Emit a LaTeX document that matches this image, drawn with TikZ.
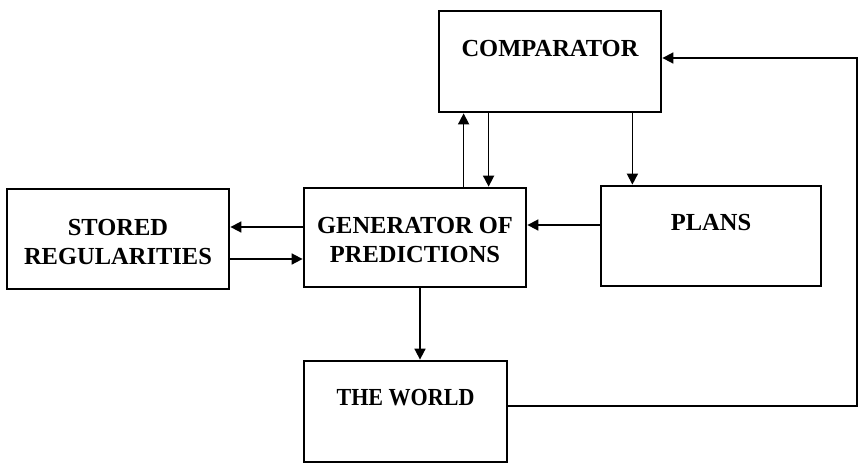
\documentclass[tikz,border=0pt]{standalone}
\usepackage{fontspec}
\setmainfont{Liberation Serif}
\usetikzlibrary{arrows.meta}
\begin{document}
\begin{tikzpicture}[x=1pt,y=-1pt,
  blk/.style={draw, line width=2.8pt, rectangle, inner sep=0pt},
  lbl/.style={font=\bfseries\fontsize{24.5}{29}\selectfont, align=center, inner sep=0pt},
  arr/.style={line width=1.7pt, -{Triangle[length=11pt,width=11pt]}}]
\useasboundingbox[fill=white] (0,0) rectangle (861,467);

% boxes
\node[blk, minimum width=222pt, minimum height=101pt] (comp)   at (550,61.5) {};
\node[blk, minimum width=222pt, minimum height=100pt] (stored) at (118,239)  {};
\node[blk, minimum width=222pt, minimum height=99pt]  (gen)    at (415,237.5) {};
\node[blk, minimum width=220pt, minimum height=100pt] (plans)  at (711,236)  {};
\node[blk, minimum width=203pt, minimum height=101pt] (world)  at (405.5,411.5) {};

% box captions
\node[lbl] (tcomp)   at ([yshift=-39pt]comp.north)   {COMPARATOR};
\node[lbl] (tstored) at ([yshift=-54pt]stored.north) {STORED\\REGULARITIES};
\node[lbl] (tgen)    at ([yshift=-53pt]gen.north)    {GENERATOR OF\\PREDICTIONS};
\node[lbl] (tplans)  at ([yshift=-38pt]plans.north)  {PLANS};
\node[lbl] (tworld)  at ([yshift=-38pt]world.north)  {\addfontfeature{FakeStretch=0.9}THE WORLD};

% connectors
\draw[arr] ([xshift=26pt]comp.south west |- gen.north) -- ([xshift=26pt]comp.south west);
\draw[arr] ([xshift=51pt]comp.south west) -- ([xshift=51pt]comp.south west |- gen.north);
\draw[arr] ([xshift=-30pt]comp.south east) -- ([xshift=-30pt]comp.south east |- plans.north);
\draw[arr] ([yshift=11pt]plans.west) -- ([yshift=11pt]plans.west -| gen.east);
\draw[arr] ([yshift=10.5pt]gen.west) -- ([yshift=10.5pt]gen.west -| stored.east);
\draw[arr] ([yshift=-21.5pt]gen.west -| stored.east) -- ([yshift=-21.5pt]gen.west);
\draw[arr] ([xshift=5pt]gen.south) -- ([xshift=5pt]gen.south |- world.north);

% feedback loop from the world back to the comparator
\coordinate (rx) at (857,0);
\coordinate (rt) at ([yshift=3.5pt]comp.east -| rx);
\draw[arr] ([yshift=5.5pt]world.east) -| (rt) -- ([yshift=3.5pt]comp.east);
\end{tikzpicture}
\end{document}
